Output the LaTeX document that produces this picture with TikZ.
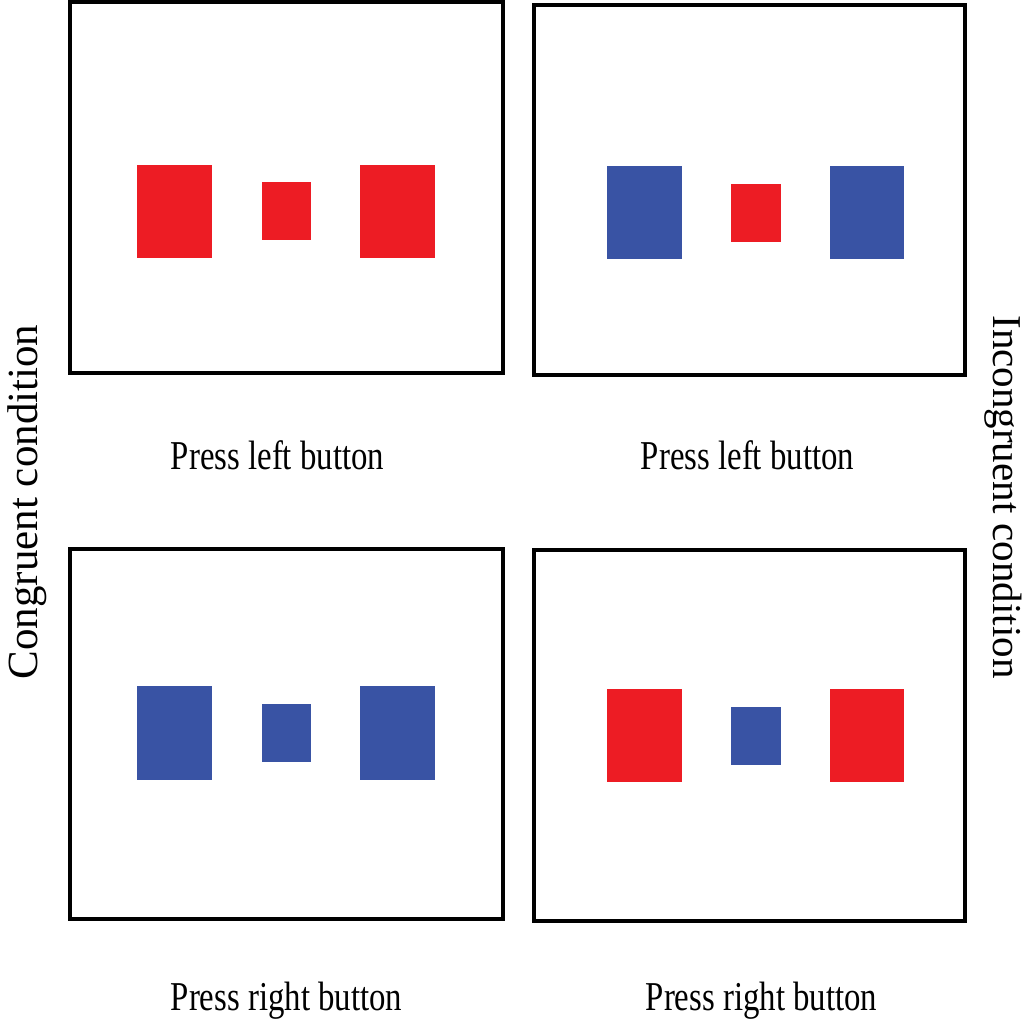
\documentclass[tikz,border=0pt]{standalone}
\usepackage{fontspec}
\setmainfont{Liberation Serif}
\definecolor{sred}{HTML}{ED1C24}
\definecolor{sblue}{HTML}{3953A4}
\begin{document}
\begin{tikzpicture}[x=1pt,y=-1pt,
  frame/.style={draw=black,line width=4pt},
  redsq/.style={fill=sred},
  bluesq/.style={fill=sblue},
  caption/.style={font=\fontsize{41}{41}\selectfont,inner sep=0pt,anchor=base,xscale=0.8,transform shape},
  sidelabel/.style={font=\fontsize{41}{41}\selectfont,inner sep=0pt,anchor=base}]
\fill[white] (0,0) rectangle (1024,1024);
\useasboundingbox (0,0) rectangle (1024,1024);
% frames
\draw[frame] (69.5,2) rectangle (503,373);
\draw[frame] (534,5) rectangle (965,375);
\draw[frame] (70,549) rectangle (503,918.5);
\draw[frame] (534,550) rectangle (965,921);
% top-left
\fill[redsq] (137.3,165) rectangle (212.3,257.7);
\fill[redsq] (261.7,182.3) rectangle (311,240);
\fill[redsq] (360,165) rectangle (435,257.7);
% top-right
\fill[bluesq] (607.3,166) rectangle (681.7,259.3);
\fill[redsq] (731,184) rectangle (781,241.7);
\fill[bluesq] (830,166) rectangle (904.3,259.3);
% bottom-left
\fill[bluesq] (137.3,686) rectangle (212.3,780);
\fill[bluesq] (261.7,704) rectangle (311,762);
\fill[bluesq] (360,686) rectangle (435,780);
% bottom-right
\fill[redsq] (607.3,689.3) rectangle (681.7,781.7);
\fill[bluesq] (731,706.7) rectangle (781,765);
\fill[redsq] (830,689.3) rectangle (904.3,781.7);
% captions
\node[caption] (c1) at (277.5,469) {Press left button};
\node[caption] (c2) at (747.5,469) {Press left button};
\node[caption] (c3) at (286.5,1010) {Press right button};
\node[caption] (c4) at (761.5,1010) {Press right button};
% side labels
\node[sidelabel,font=\fontsize{43}{43}\selectfont,rotate=90] (cong) at (37,502) {Congruent condition};
\node[sidelabel,rotate=-90] (incong) at (993,497) {Incongruent condition};
\end{tikzpicture}
\end{document}
